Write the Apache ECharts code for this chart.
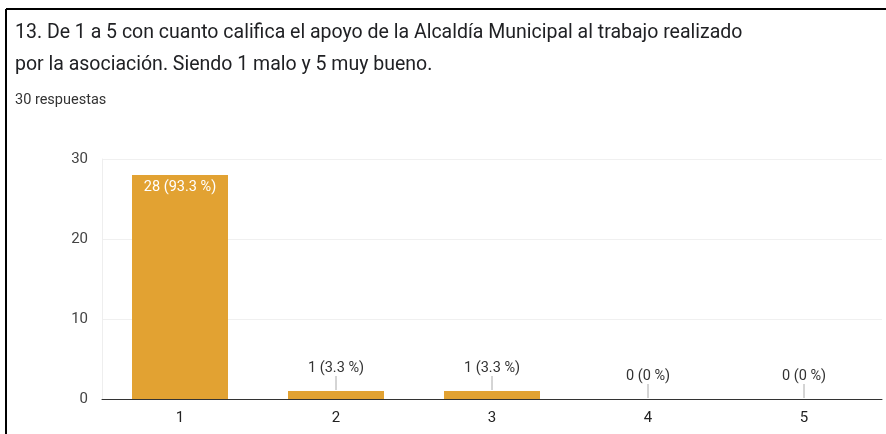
<!DOCTYPE html>
<html>
<head>
<meta charset="utf-8">
<script src="https://cdn.jsdelivr.net/npm/echarts@6/dist/echarts.min.js"></script>
<style>
    html, body { margin: 0; padding: 0; background: #fff; }
    #chart { width: 886px; height: 434px; }
</style>
</head>
<body>
<div id="chart"></div>
<script>
    // datos de la pregunta 13
    const categories = ['1', '2', '3', '4', '5']
    const counts = [28, 1, 1, 0, 0]
    const total = 30
    const yTicks = [0, 10, 20, 30]

    const titleLines = [
        '13. De 1 a 5 con cuanto califica el apoyo de la Alcaldía Municipal al trabajo realizado',
        'por la asociación. Siendo 1 malo y 5 muy bueno.'
    ]
    const subtitle = total + ' respuestas'

    const barColor = '#E2A232'
    const pct = v => Number((v / total * 100).toFixed(1))
    const labelText = v => v + ' (' + pct(v) + ' %)'
    const insideMin = 5 // barras altas llevan la etiqueta dentro

    const chart = echarts.init(document.getElementById('chart'))
    chart.setOption({
        animation: false,
        textStyle: { fontFamily: 'Roboto' },
        graphic: [
            { type: 'line', shape: { x1: 6, y1: 9, x2: 886, y2: 9 }, style: { stroke: '#000', lineWidth: 2 } },
            { type: 'line', shape: { x1: 6, y1: 9, x2: 6, y2: 434 }, style: { stroke: '#000', lineWidth: 2 } },
            { type: 'text', left: 15, top: 23, style: { text: titleLines[0], fill: '#202124', font: '19.5px Roboto' } },
            { type: 'text', left: 15, top: 55, style: { text: titleLines[1], fill: '#202124', font: '19.5px Roboto' } },
            { type: 'text', left: 15, top: 93, style: { text: subtitle, fill: '#333', font: '14.5px Roboto' } }
        ],
        grid: {
            left: 102,
            right: 4,
            top: 159,
            bottom: 35
        },
        xAxis: {
            type: 'category',
            data: categories,
            axisLine: { lineStyle: { color: '#333', width: 1 } },
            axisTick: { show: false },
            axisLabel: { color: '#222', fontSize: 15, margin: 12 }
        },
        yAxis: {
            type: 'value',
            min: yTicks[0],
            max: yTicks[yTicks.length - 1],
            interval: 10,
            axisLine: { show: true, lineStyle: { color: '#eeeeee' } },
            axisTick: { show: false },
            axisLabel: { color: '#444', fontSize: 15, margin: 14 },
            splitLine: { lineStyle: { color: '#f0f0f0' } }
        },
        series: [{
            type: 'bar',
            data: counts,
            barWidth: 96,
            itemStyle: { color: barColor },
            label: {
                show: true,
                position: 'insideTop',
                distance: 5,
                color: '#fff',
                fontSize: 14.5,
                formatter: p => p.value >= insideMin ? labelText(p.value) : ''
            },
            z: 2
        }, {
            // etiquetas de barras bajas con su línea guía
            type: 'custom',
            data: counts.map((v, i) => [i, v]),
            z: 3,
            renderItem: (params, api) => {
                const v = api.value(1)
                if (v >= insideMin) return null
                const pt = api.coord([api.value(0), v])
                return {
                    type: 'group',
                    children: [{
                        type: 'line',
                        shape: { x1: pt[0], y1: pt[1] - 1, x2: pt[0], y2: pt[1] - 15 },
                        style: { stroke: '#aaa', lineWidth: 1 }
                    }, {
                        type: 'text',
                        x: pt[0],
                        y: pt[1] - 15,
                        style: {
                            text: labelText(v),
                            fill: '#333',
                            font: '14.5px Roboto',
                            align: 'center',
                            verticalAlign: 'bottom'
                        }
                    }]
                }
            }
        }]
    })
</script>
</body>
</html>
